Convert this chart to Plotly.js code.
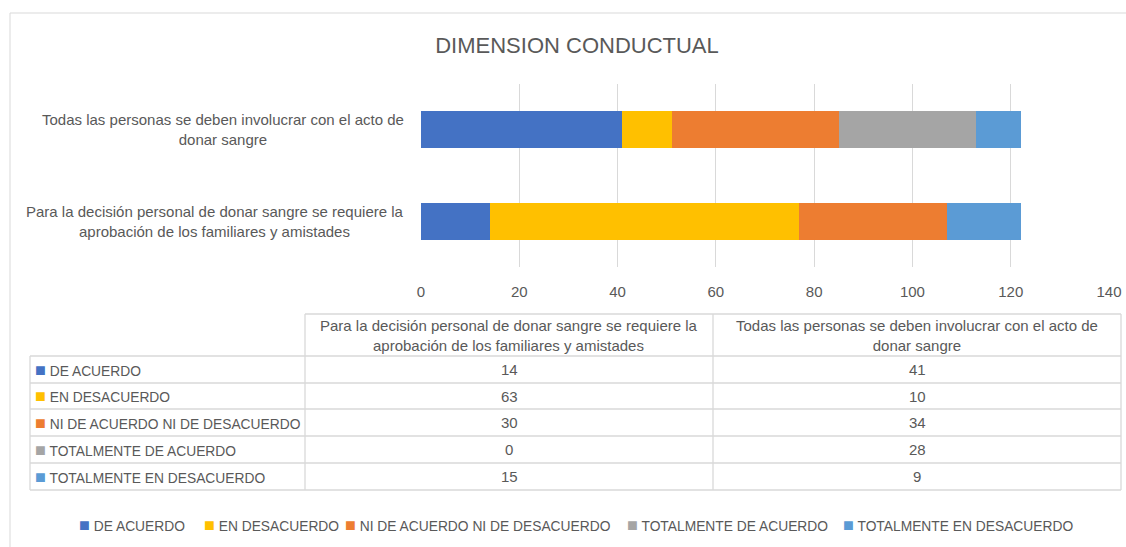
<!DOCTYPE html>
<html>
<head>
<meta charset="utf-8">
<script src="https://cdn.plot.ly/plotly-3.0.1.min.js"></script>
<style>html,body{margin:0;padding:0;background:#fff;}#chart{width:1126px;height:547px;}</style>
</head>
<body>
<div id="chart"></div>
<script>
// ---- data ----
const categories = [
  "Para la decisión personal de donar sangre se requiere la<br>aprobación de los familiares y amistades",
  "Todas las personas se deben involucrar con el acto de<br>donar sangre"
];
const seriesNames = [
  "DE ACUERDO",
  "EN DESACUERDO",
  "NI DE ACUERDO NI DE DESACUERDO",
  "TOTALMENTE DE ACUERDO",
  "TOTALMENTE EN DESACUERDO"
];
const deAcuerdo = [14, 41];
const enDesacuerdo = [63, 10];
const niNi = [30, 34];
const totDeAcuerdo = [0, 28];
const totEnDesacuerdo = [15, 9];
const seriesValues = [deAcuerdo, enDesacuerdo, niNi, totDeAcuerdo, totEnDesacuerdo];
const colors = ["#4472C4", "#FFC000", "#ED7D31", "#A5A5A5", "#5B9BD5"];
const xTicks = [0, 20, 40, 60, 80, 100, 120, 140];

// ---- layout geometry (pixels) ----
const W = 1126, H = 547;
const M = {l: 421, r: 17, t: 84, b: 280, autoexpand: false};
const PW = W - M.l - M.r, PH = H - M.t - M.b;
const px = x => (x - M.l) / PW;
const py = y => (H - M.b - y) / PH;

const FONT = "Liberation Sans, Arial, sans-serif";
const TXT = "#595959";
const GRID = "#d9d9d9";

const traces = seriesNames.map((name, i) => ({
  type: "bar",
  orientation: "h",
  name: name,
  y: categories,
  x: seriesValues[i],
  marker: {color: colors[i]},
  hoverinfo: "x+name"
}));

const shapes = [];
const annotations = [];

// outer chart border
shapes.push({type: "rect", xref: "paper", yref: "paper",
  x0: px(10), x1: px(1130), y0: py(13), y1: py(600),
  line: {color: GRID, width: 1}, fillcolor: "rgba(0,0,0,0)", layer: "below"});

// category labels (left of plot)
categories.forEach(c => {
  annotations.push({xref: "paper", yref: "y", x: px(406), y: c, text: c,
    xanchor: "right", yanchor: "middle", align: "center", showarrow: false,
    font: {family: FONT, size: 15, color: TXT}});
});

// ---- data table ----
const tL = 30, tC1 = 305, tC2 = 713, tR = 1121;
const hTop = 314, hBot = 356;
const rowYs = [356, 383, 409, 436, 463, 490];
function hline(x0, x1, y) {
  shapes.push({type: "line", xref: "paper", yref: "paper", x0: px(x0), x1: px(x1), y0: py(y), y1: py(y), line: {color: GRID, width: 1.3}});
}
function vline(x, y0, y1) {
  shapes.push({type: "line", xref: "paper", yref: "paper", x0: px(x), x1: px(x), y0: py(y0), y1: py(y1), line: {color: GRID, width: 1.3}});
}
hline(tC1, tR, hTop);
rowYs.forEach(y => hline(tL, tR, y));
vline(tL, hBot, rowYs[rowYs.length - 1]);
vline(tC1, hTop, rowYs[rowYs.length - 1]);
vline(tC2, hTop, rowYs[rowYs.length - 1]);
vline(tR, hTop, rowYs[rowYs.length - 1]);

const colCenters = [(tC1 + tC2) / 2, (tC2 + tR) / 2];
categories.forEach((c, j) => {
  annotations.push({xref: "paper", yref: "paper", x: px(colCenters[j]), y: py((hTop + hBot) / 2),
    text: c, align: "center", xanchor: "center", yanchor: "middle", showarrow: false,
    font: {family: FONT, size: 15, color: TXT}});
});
const keyed = (name, i) => '<span style="color:' + colors[i] + ';font-size:18px">■</span> ' + name;
seriesNames.forEach((name, i) => {
  const yc = py((rowYs[i] + rowYs[i + 1]) / 2);
  annotations.push({xref: "paper", yref: "paper", x: px(33), y: yc,
    text: keyed(name, i),
    xanchor: "left", yanchor: "middle", align: "left", showarrow: false,
    font: {family: FONT, size: 13.8, color: TXT}});
  seriesValues[i].forEach((v, j) => {
    annotations.push({xref: "paper", yref: "paper", x: px(colCenters[j]), y: yc,
      text: String(v), xanchor: "center", yanchor: "middle", showarrow: false,
      font: {family: FONT, size: 15, color: TXT}});
  });
});

// ---- bottom legend (Excel style, one row) ----
const legendKeyX = [81, 206, 347, 629, 845];
seriesNames.forEach((name, i) => {
  annotations.push({xref: "paper", yref: "paper", x: px(legendKeyX[i] - 4), y: py(525),
    text: keyed(name, i), xanchor: "left", yanchor: "middle", align: "left", showarrow: false,
    font: {family: FONT, size: 13.8, color: TXT}});
});

const layout = {
  width: W, height: H,
  margin: M,
  paper_bgcolor: "#ffffff",
  plot_bgcolor: "#ffffff",
  barmode: "stack",
  bargap: 0.6,
  font: {family: FONT, color: TXT},
  title: {text: "DIMENSION CONDUCTUAL", x: 577 / W, xanchor: "center", xref: "container",
    y: 1 - 45 / H, yanchor: "middle", yref: "container",
    font: {family: FONT, size: 22, color: TXT}},
  xaxis: {range: [0, 140], tickvals: xTicks, ticktext: xTicks.map(String), showgrid: true, gridcolor: GRID, gridwidth: 1,
    zeroline: false, showline: false, ticks: "", tickfont: {family: FONT, size: 15, color: TXT},
    ticklabelstandoff: 14, fixedrange: true},
  yaxis: {type: "category", categoryorder: "array", categoryarray: categories, range: [-0.5, 1.5],
    showticklabels: false, showgrid: false, zeroline: false, showline: false, ticks: ""},
  showlegend: false,
  shapes: shapes,
  annotations: annotations
};

Plotly.newPlot("chart", traces, layout, {displayModeBar: false, staticPlot: true});
</script>
</body>
</html>
